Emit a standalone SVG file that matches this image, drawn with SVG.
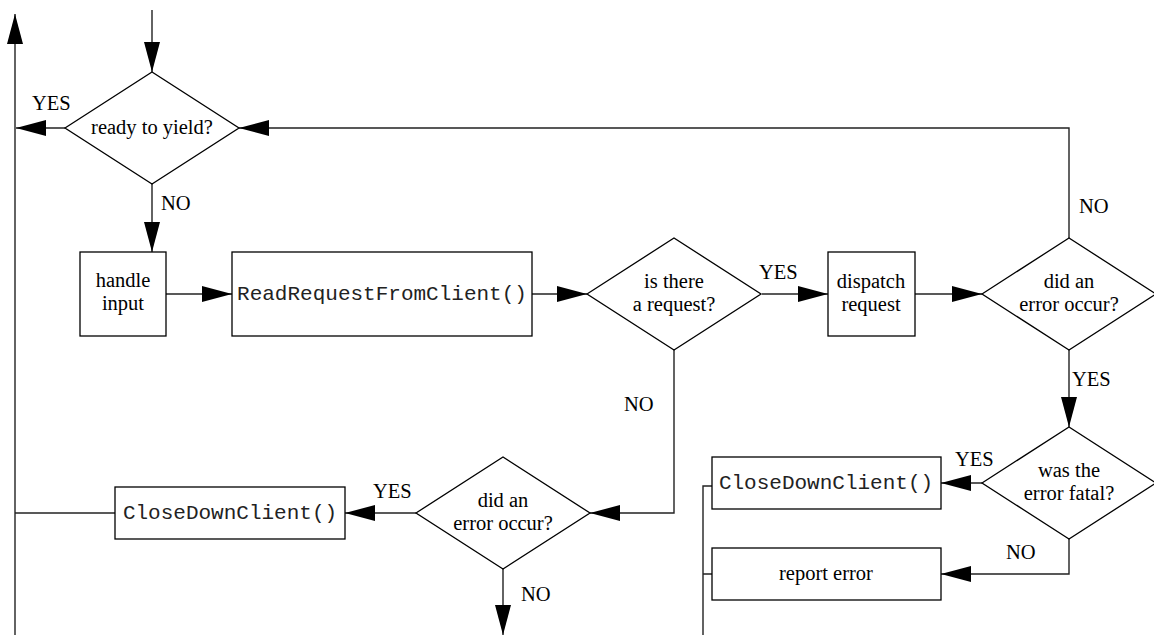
<svg xmlns="http://www.w3.org/2000/svg" width="1154" height="635" viewBox="0 0 1154 635">
  <style>
    .shape { fill: #fff; stroke: #000; stroke-width: 1.3; }
    .wire { fill: none; stroke: #222; stroke-width: 1.4; }
    .arrow { fill: none; stroke: #222; stroke-width: 1.4; marker-end: url(#head); }
    .lbl { font-family: "Liberation Serif", "Times New Roman", serif; font-size: 20.5px; fill: #000; }
    .mid { text-anchor: middle; }
    .code { font-family: "Liberation Mono", "Courier New", monospace; font-size: 21px; fill: #222; text-anchor: middle; }
  </style>
  <defs>
    <marker id="head" markerUnits="userSpaceOnUse" markerWidth="30" markerHeight="16" refX="30" refY="8" orient="auto" viewBox="0 0 30 16">
      <path d="M0,0 L30,8 L0,16 z" fill="#000"/>
    </marker>
  </defs>

  <rect width="1154" height="635" fill="#fff"/>

  <!-- connectors -->
  <g id="connectors">
    <path class="arrow" d="M152,10 V72"/>
    <path class="arrow" d="M15,635 V14"/>
    <path class="arrow" d="M65,128 H16"/>
    <path class="arrow" d="M152,184 V252"/>
    <path class="arrow" d="M166,294 H232"/>
    <path class="arrow" d="M532,294 H587"/>
    <path class="arrow" d="M762,294 H828"/>
    <path class="arrow" d="M915,294 H982"/>
    <path class="arrow" d="M1069,238 V128 H239"/>
    <path class="arrow" d="M1069,350 V427"/>
    <path class="arrow" d="M982,483 H941"/>
    <path class="arrow" d="M1069,539 V574 H941"/>
    <path class="wire" d="M703,635 V486 H712 M703,574 H712"/>
    <path class="arrow" d="M674,350 V513 H590"/>
    <path class="arrow" d="M416,513 H345"/>
    <path class="wire" d="M115,513 H15"/>
    <path class="arrow" d="M503,569 V635"/>

    <text class="lbl" x="32" y="110">YES</text>
    <text class="lbl" x="161" y="210">NO</text>
    <text class="lbl" x="759" y="279">YES</text>
    <text class="lbl" x="1079" y="213">NO</text>
    <text class="lbl" x="1072" y="386">YES</text>
    <text class="lbl" x="955" y="466">YES</text>
    <text class="lbl" x="1006" y="559">NO</text>
    <text class="lbl" x="624" y="411">NO</text>
    <text class="lbl" x="373" y="498">YES</text>
    <text class="lbl" x="521" y="601">NO</text>
  </g>

  <!-- decisions -->
  <g id="ready-to-yield">
    <polygon class="shape" points="65,128 152,72 239,128 152,184"/>
    <text class="lbl mid" x="152" y="134">ready to yield?</text>
  </g>
  <g id="is-there-request">
    <polygon class="shape" points="587,294 674,238 761,294 674,350"/>
    <text class="lbl mid" x="674" y="288">is there</text>
    <text class="lbl mid" x="674" y="311">a request?</text>
  </g>
  <g id="dispatch-error">
    <polygon class="shape" points="982,294 1069,238 1156,294 1069,350"/>
    <text class="lbl mid" x="1069" y="288">did an</text>
    <text class="lbl mid" x="1069" y="311">error occur?</text>
  </g>
  <g id="error-fatal">
    <polygon class="shape" points="982,483 1069,427 1156,483 1069,539"/>
    <text class="lbl mid" x="1069" y="477">was the</text>
    <text class="lbl mid" x="1069" y="500">error fatal?</text>
  </g>
  <g id="read-error">
    <polygon class="shape" points="416,513 503,457 590,513 503,569"/>
    <text class="lbl mid" x="503" y="507">did an</text>
    <text class="lbl mid" x="503" y="530">error occur?</text>
  </g>

  <!-- processes -->
  <g id="handle-input">
    <rect class="shape" x="80" y="252" width="86" height="84"/>
    <text class="lbl mid" x="123" y="287">handle</text>
    <text class="lbl mid" x="123" y="310">input</text>
  </g>
  <g id="read-request">
    <rect class="shape" x="232" y="252" width="300" height="84"/>
    <text class="code" x="382" y="300">ReadRequestFromClient()</text>
  </g>
  <g id="dispatch-request">
    <rect class="shape" x="828" y="252" width="87" height="84"/>
    <text class="lbl mid" x="871" y="288">dispatch</text>
    <text class="lbl mid" x="871" y="311">request</text>
  </g>
  <g id="close-fatal">
    <rect class="shape" x="712" y="457" width="229" height="52"/>
    <text class="code" x="826" y="489">CloseDownClient()</text>
  </g>
  <g id="report-error">
    <rect class="shape" x="712" y="548" width="229" height="52"/>
    <text class="lbl mid" x="826" y="580">report error</text>
  </g>
  <g id="close-read">
    <rect class="shape" x="115" y="487" width="230" height="52"/>
    <text class="code" x="230" y="519">CloseDownClient()</text>
  </g>
</svg>
